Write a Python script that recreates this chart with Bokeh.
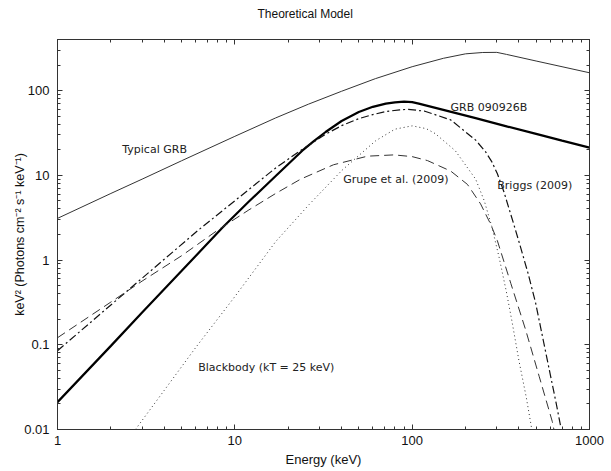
from bokeh.plotting import figure
from bokeh.models import FixedTicker, LogAxis, CustomJSTickFormatter, Label, CustomLabelingPolicy
from bokeh.embed import file_html
from bokeh.resources import INLINE

# ---------------- data ----------------
title_text = "Theoretical Model"
x_label = "Energy (keV)"
y_label = "keV\u00b2 (Photons cm\u207b\u00b2 s\u207b\u00b9 keV\u207b\u00b9)"

x_ticks = [1, 10, 100, 1000]
x_tick_labels = ["1", "10", "100", "1000"]
y_ticks = [0.01, 0.1, 1, 10, 100]
y_tick_labels = ["0.01", "0.1", "1", "10", "100"]

# Typical GRB (thin solid)
typical_E = [1, 2, 3, 5, 10, 17, 26, 40, 62, 100, 150, 200, 250, 300, 340, 500, 700, 1000]
typical_F = [3.1, 6.1, 9.0, 14.8, 28.8, 47.5, 69, 98, 138, 191, 240, 271, 281, 282, 267, 223, 191, 162]

# GRB 090926B (thick solid)
grb_E = [1, 2, 3, 5, 8.5, 12, 17, 24, 28, 32.5, 40, 50, 60, 71, 80, 90, 100, 109, 148, 228, 345, 500, 700, 1000]
grb_F = [0.021, 0.097, 0.24, 0.74, 2.4, 4.9, 9.8, 19.5, 25.5, 32.4, 43.7, 55.7, 64.2, 70, 72.6, 73.8, 73, 70, 59.5, 47.3, 37.5, 30.8, 25.6, 21.2]

# Briggs (2009) (dash-dot)
briggs_E = [1, 2, 3, 6.3, 10, 17, 23, 32.5, 40, 50, 60, 71, 85, 95, 118, 165, 228, 259, 281, 302, 329, 359, 375, 400, 450, 497, 550, 603, 650, 690]
briggs_F = [0.085, 0.295, 0.61, 2.3, 5.0, 12.2, 19, 30.5, 38.5, 46.5, 52, 56.5, 59.2, 60, 57, 45, 26, 19, 14.5, 10.5, 6.4, 3.5, 2.6, 1.65, 0.7, 0.31, 0.11, 0.043, 0.02, 0.0105]

# Grupe et al. (2009) (dashed)
grupe_E = [1, 2, 3, 5, 8.1, 12, 17, 23.5, 36, 56, 79, 100, 122, 165, 205, 243, 277, 302, 360, 436, 520, 617, 630]
grupe_F = [0.121, 0.319, 0.564, 1.12, 2.29, 3.9, 6.1, 9.0, 13.3, 16.8, 17.4, 16.6, 14.9, 11.2, 7.8, 4.6, 2.65, 1.7, 0.53, 0.151, 0.0425, 0.0124, 0.01]

# Blackbody kT = 25 keV (dotted)
bb_E = [2.75, 4, 6, 10, 17, 26.2, 40.3, 62.2, 80, 100, 120, 135, 175, 228, 255, 281, 310, 340, 367, 400, 440, 471]
bb_F = [0.01, 0.029, 0.092, 0.37, 1.65, 4.5, 11.5, 25.5, 35, 38.3, 35.5, 31, 19.5, 9.0, 5.0, 2.5, 1.05, 0.42, 0.18, 0.065, 0.024, 0.0105]

x_minor = [m * 10 ** k for k in range(0, 3) for m in range(2, 10)]
y_minor = [m * 10.0 ** k for k in range(-2, 3) for m in range(2, 10) if m * 10.0 ** k <= 400]

# ---------------- figure ----------------
p = figure(width=605, height=469, x_axis_type="log", y_axis_type="log",
           x_range=(1, 1000), y_range=(0.01, 400),
           output_backend="svg", toolbar_location=None,
           min_border_left=57, min_border_right=16, min_border_top=39, min_border_bottom=34,
           background_fill_color="white", border_fill_color="white")
p.xgrid.visible = False
p.ygrid.visible = False
p.outline_line_color = "#333333"
p.outline_line_width = 1

axis_font = "Liberation Sans"
fmt = CustomJSTickFormatter(code="return String(tick);")

xt = FixedTicker(ticks=x_ticks, minor_ticks=x_minor)
yt = FixedTicker(ticks=y_ticks, minor_ticks=y_minor)

def style_axis(ax):
    ax.axis_line_color = "#333333"
    ax.major_tick_line_color = "#333333"
    ax.minor_tick_line_color = "#333333"
    ax.major_tick_in = 5
    ax.major_tick_out = 0
    ax.minor_tick_in = 3
    ax.minor_tick_out = 0
    ax.major_label_text_font = axis_font
    ax.major_label_text_font_size = "13px"
    ax.major_label_text_color = "#111111"
    ax.axis_label_text_font = axis_font
    ax.axis_label_text_font_size = "13px"
    ax.axis_label_text_font_style = "normal"
    ax.axis_label_text_color = "#111111"

xa = p.xaxis[0]
xa.ticker = xt
xa.formatter = fmt
xa.major_label_overrides = dict(zip(x_ticks, x_tick_labels))
xa.axis_label = x_label
style_axis(xa)
xa.major_label_standoff = 6
xa.axis_label_standoff = 4

ya = p.yaxis[0]
ya.ticker = yt
ya.formatter = fmt
ya.major_label_overrides = dict(zip(y_ticks, y_tick_labels))
ya.axis_label = y_label
style_axis(ya)
ya.axis_label_text_font_size = "12.5px"
ya.major_label_standoff = 8
ya.axis_label_standoff = -6

hide_all = CustomLabelingPolicy(code="""
for (const i of indices)
    indices.unset(i)
""")

# mirrored ticks on top (its hidden labels reserve room that lifts the title)
top_ax = LogAxis(ticker=xt, formatter=fmt)
style_axis(top_ax)
top_ax.major_label_standoff = 5
top_ax.major_label_policy = hide_all
p.add_layout(top_ax, "above")

right_ax = LogAxis(ticker=yt, formatter=fmt)
style_axis(right_ax)
right_ax.major_label_text_font_size = "1px"
right_ax.major_label_standoff = 0
right_ax.major_label_policy = hide_all
p.add_layout(right_ax, "right")

# title
p.title.text = title_text
p.title.text_font = axis_font
p.title.text_font_size = "12px"
p.title.text_font_style = "normal"
p.title.text_color = "#111111"
p.title.align = "left"
p.title.offset = 200
p.title.vertical_align = "top"
p.title.standoff = 0

# ---------------- curves ----------------
p.line(typical_E, typical_F, line_color="#333333", line_width=1)
p.line(grb_E, grb_F, line_color="black", line_width=2.2)
p.line(briggs_E, briggs_F, line_color="#111111", line_width=1.2, line_dash="8 3 2 3")
p.line(grupe_E, grupe_F, line_color="#333333", line_width=1, line_dash="9 5")
p.line(bb_E, bb_F, line_color="#333333", line_width=1, line_dash="1 3")

# ---------------- annotations ----------------
annotations = [
    ("Typical GRB", 2.32, 20.4),
    ("GRB 090926B", 164.7, 62.4),
    ("Grupe et al. (2009)", 40.9, 8.9),
    ("Briggs (2009)", 302, 7.65),
    ("Blackbody (kT = 25 keV)", 6.22, 0.054),
]
for txt, ax_, ay_ in annotations:
    p.add_layout(Label(x=ax_, y=ay_, text=txt, text_font="DejaVu Sans", text_font_size="11px",
                       text_color="#222222", text_align="left", text_baseline="middle"))

open("out.html", "w").write(file_html(p, INLINE))
